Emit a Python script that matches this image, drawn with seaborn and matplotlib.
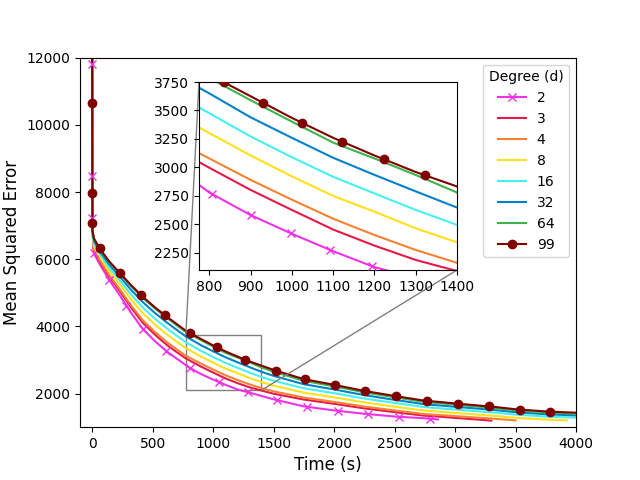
import numpy as np
import pandas as pd
import matplotlib
matplotlib.use("Agg")
import matplotlib.pyplot as plt
from matplotlib.lines import Line2D
import seaborn as sns
from mpl_toolkits.axes_grid1.inset_locator import mark_inset

# ---------------- data ----------------
DEGREES = ["2", "3", "4", "8", "16", "32", "64", "99"]
COLORS = ["#f032e6", "#e6194b", "#f58231", "#ffe119", "#46f0f0", "#0082c8", "#3cb44b", "#800000"]

TIME = [0, 3, 15, 60, 140, 230, 320, 420, 520, 620, 700, 775, 800, 900, 1000, 1100, 1200,
        1300, 1400, 1500, 1750, 2000, 2250, 2500, 2750, 2860, 3000, 3250, 3300, 3500, 3750,
        3925, 4000]
N = None
MSE_2 = [13500, 6850, 6170, 5870, 5390, 4920, 4415, 3918, 3560, 3245, 3040, 2847, 2780, 2582,
         2418, 2265, 2125, 2030, 1930, 1830, 1620, 1500, 1400, 1318, 1265, 1232, N, N, N, N, N, N, N]
MSE_3 = [13500, 6850, 6255, 5956, 5495, 5047, 4570, 4101, 3752, 3441, 3234, 3047, 2997, 2803,
         2627, 2455, 2314, 2188, 2091, 1996, 1823, 1697, 1560, 1448, 1341, 1316, 1277, 1211, 1196,
         N, N, N, N]
MSE_4 = [13500, 6850, 6292, 5993, 5538, 5100, 4635, 4178, 3832, 3525, 3317, 3126, 3079, 2891,
         2717, 2550, 2407, 2276, 2163, 2067, 1883, 1753, 1614, 1500, 1391, 1365, 1330, 1270, 1259,
         1202, N, N, N]
MSE_8 = [13500, 6850, 6390, 6094, 5660, 5248, 4816, 4390, 4053, 3754, 3543, 3351, 3302, 3105,
         2922, 2750, 2612, 2466, 2343, 2237, 2029, 1889, 1737, 1612, 1493, 1465, 1424, 1358, 1346,
         1280, 1226, 1203, N]
MSE_16 = [13500, 6850, 6469, 6175, 5756, 5365, 4960, 4558, 4229, 3936, 3723, 3527, 3476, 3272,
          3090, 2918, 2772, 2627, 2496, 2383, 2158, 2013, 1853, 1722, 1597, 1567, 1526, 1455, 1445,
          1374, 1317, 1292, 1283]
MSE_32 = [13500, 6850, 6545, 6253, 5848, 5478, 5098, 4719, 4397, 4111, 3896, 3700, 3650, 3440,
          3260, 3085, 2935, 2790, 2648, 2529, 2279, 2124, 1955, 1814, 1683, 1651, 1608, 1534, 1520,
          1447, 1386, 1360, 1350]
MSE_64 = [13500, 6850, 6605, 6314, 5922, 5567, 5207, 4847, 4531, 4249, 4033, 3835, 3785, 3590,
          3402, 3218, 3079, 2934, 2780, 2651, 2381, 2217, 2038, 1891, 1752, 1720, 1673, 1594, 1580,
          1503, 1439, 1412, 1402]
MSE_99 = [13500, 6850, 6620, 6330, 5940, 5590, 5235, 4880, 4565, 4285, 4068, 3870, 3815, 3625,
          3435, 3260, 3105, 2960, 2833, 2705, 2430, 2262, 2080, 1930, 1788, 1755, 1707, 1628, 1614,
          1535, 1470, 1442, 1432]

# marker positions (main axes)
MARK2_T = [1.5, 1.5, 1.5, 15, 143, 283, 421, 609, 810, 1047, 1285, 1525, 1773, 2035, 2283, 2537, 2794]
MARK2_V = [11806, 8472, 7230, 6170, 5374, 4622, 3915, 3280, 2776, 2346, 2044, 1809, 1609, 1486, 1389, 1309, 1252]
MARK99_T = [1.5, 1.5, 1.5, 62, 228, 402, 603, 810, 1031, 1263, 1517, 1757, 2011, 2257, 2508, 2767,
            3021, 3278, 3535, 3786]
MARK99_V = [10640, 7975, 7080, 6320, 5598, 4944, 4333, 3796, 3381, 3013, 2686, 2424, 2254, 2076,
            1925, 1783, 1700, 1620, 1526, 1464]
# marker positions (inset)
IN2_T = [806, 900, 997, 1093, 1194]
IN2_V = [2768, 2582, 2423, 2276, 2133]
IN99_T = [835, 930, 1025, 1121, 1223, 1322]
IN99_V = [3748, 3568, 3391, 3227, 3072, 2932]

SERIES = [MSE_2, MSE_3, MSE_4, MSE_8, MSE_16, MSE_32, MSE_64, MSE_99]

rows = []
for deg, vals in zip(DEGREES, SERIES):
    for t, v in zip(TIME, vals):
        if v is not None:
            rows.append({"Time": t, "MSE": v, "Degree": deg})
df = pd.DataFrame(rows)
palette = dict(zip(DEGREES, COLORS))

# ---------------- figure ----------------
fig, ax = plt.subplots(figsize=(6.4, 4.8), dpi=100)
sns.lineplot(data=df, x="Time", y="MSE", hue="Degree", hue_order=DEGREES, palette=palette,
             estimator=None, sort=False, legend=False, linewidth=1.5, ax=ax)
ax.plot(MARK2_T, MARK2_V, ls="none", marker="x", color=palette["2"], ms=6, zorder=3)
ax.plot(MARK99_T, MARK99_V, ls="none", marker="o", color=palette["99"], ms=6, zorder=3)
ax.set_xlim(-100, 4000)
ax.set_ylim(1000, 12000)
ax.set_xlabel("Time (s)", fontsize=12)
ax.set_ylabel("Mean Squared Error", fontsize=12)

handles = []
for deg, col in zip(DEGREES, COLORS):
    mk = "x" if deg == "2" else ("o" if deg == "99" else None)
    handles.append(Line2D([], [], color=col, lw=1.5, marker=mk, ms=6))
ax.legend(handles, DEGREES, title="Degree (d)", loc="upper right", fontsize=10)

# inset
axins = fig.add_axes([199 / 640, 1 - 270 / 480, 258 / 640, 188 / 480])
sns.lineplot(data=df, x="Time", y="MSE", hue="Degree", hue_order=DEGREES, palette=palette,
             estimator=None, sort=False, legend=False, linewidth=1.5, ax=axins)
axins.plot(IN2_T, IN2_V, ls="none", marker="x", color=palette["2"], ms=6, zorder=3)
axins.plot(IN99_T, IN99_V, ls="none", marker="o", color=palette["99"], ms=6, zorder=3)
axins.set_xlim(775, 1400)
axins.set_ylim(2100, 3750)
axins.set_xticks([800, 900, 1000, 1100, 1200, 1300, 1400])
axins.set_yticks([2250, 2500, 2750, 3000, 3250, 3500, 3750])
axins.set_xlabel("")
axins.set_ylabel("")
mark_inset(ax, axins, loc1=2, loc2=4, fc="none", ec="0.5")

fig.savefig("out.png", dpi=100)
